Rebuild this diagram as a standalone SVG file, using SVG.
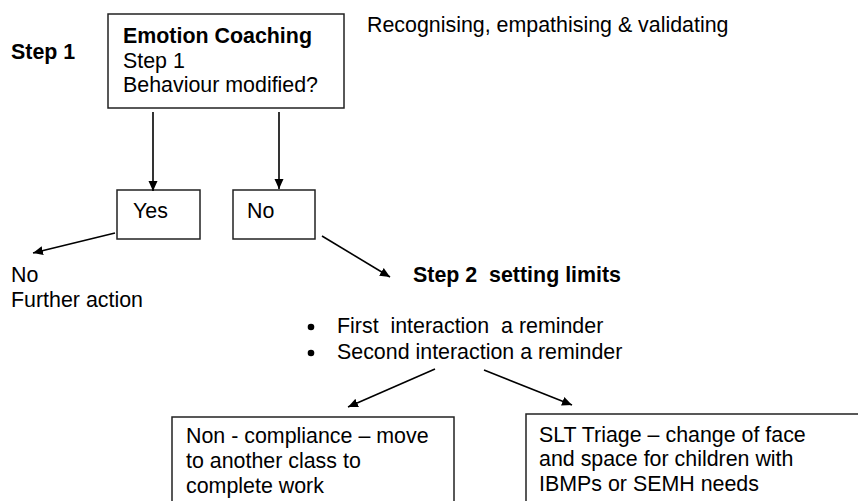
<svg xmlns="http://www.w3.org/2000/svg" width="858" height="501" viewBox="0 0 858 501">
<defs>
<marker id="ah" viewBox="0 0 10 10" refX="10" refY="5" markerWidth="10" markerHeight="10" markerUnits="userSpaceOnUse" orient="auto">
<path d="M0,0.5 L10,5 L0,9.5 Z" fill="#000"/>
</marker>
</defs>
<style>
text{font-family:"Liberation Sans",Arial,sans-serif;font-size:21.4px;fill:#000;white-space:pre}
.b{font-weight:bold}
.box{fill:#fff;stroke:#222;stroke-width:1.5}
.con line{stroke:#000;stroke-width:1.6;marker-end:url(#ah)}
</style>
<rect width="858" height="501" fill="#fff"/>
<g id="labels">
<text class="b" x="11" y="59">Step 1</text>
<text x="367" y="32">Recognising, empathising &amp; validating</text>
<text x="11" y="282">No</text>
<text x="11" y="307">Further action</text>
</g>
<g id="emotion-coaching">
<rect class="box" x="108" y="14" width="236" height="94"/>
<text class="b" x="123" y="43">Emotion Coaching</text>
<text x="123" y="68">Step 1</text>
<text x="123" y="92">Behaviour modified?</text>
</g>
<g id="yes">
<rect class="box" x="117" y="190" width="83" height="49"/>
<text x="133" y="218">Yes</text>
</g>
<g id="no">
<rect class="box" x="233" y="190" width="82" height="49"/>
<text x="247" y="218">No</text>
</g>
<g id="step2">
<text class="b" x="413" y="282" xml:space="preserve">Step 2  setting limits</text>
<circle cx="311" cy="327" r="3.3"/>
<text x="337" y="333" xml:space="preserve">First  interaction  a reminder</text>
<circle cx="311" cy="353" r="3.3"/>
<text x="337" y="359">Second interaction a reminder</text>
</g>
<g id="non-compliance">
<rect class="box" x="172" y="417" width="282" height="100"/>
<text x="186" y="443">Non - compliance – move</text>
<text x="186" y="468">to another class to</text>
<text x="186" y="493">complete work</text>
</g>
<g id="slt-triage">
<rect class="box" x="526" y="414" width="350" height="100"/>
<text x="539" y="442">SLT Triage – change of face</text>
<text x="539" y="466">and space for children with</text>
<text x="539" y="491">IBMPs or SEMH needs</text>
</g>
<g id="connectors" class="con">
<line x1="153" y1="112" x2="153" y2="191"/>
<line x1="279" y1="112" x2="279" y2="189"/>
<line x1="115" y1="233" x2="33" y2="253"/>
<line x1="322" y1="236" x2="390" y2="277"/>
<line x1="435" y1="369" x2="348" y2="407"/>
<line x1="484" y1="370" x2="572" y2="405"/>
</g>
</svg>
